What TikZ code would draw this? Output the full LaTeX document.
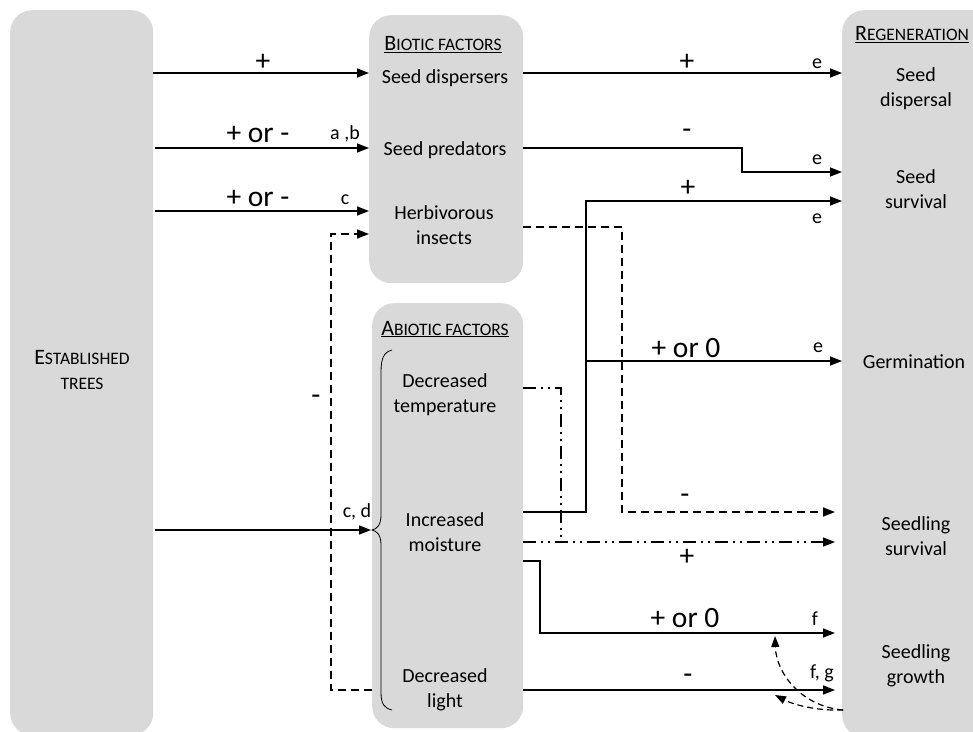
\documentclass[tikz,border=0pt]{standalone}
\usepackage{fontspec}
\setmainfont{Carlito}
\usetikzlibrary{arrows.meta}
\definecolor{boxgray}{HTML}{D9D9D9}
\newcommand{\myfsc}[2]{{\fontsize{22}{24}\selectfont #1}{\fontsize{17.5}{20}\selectfont #2}}
\begin{document}
\begin{tikzpicture}[x=1pt,y=-1pt,
  box/.style={fill=boxgray, rounded corners=22pt, inner sep=0pt, anchor=north west, draw=none},
  lbl/.style={font=\fontsize{20}{25}\selectfont, align=center, inner sep=0pt},
  sgn/.style={font=\fontsize{29.5}{31}\selectfont, inner sep=0pt},
  refl/.style={font=\fontsize{20}{22}\selectfont, inner sep=0pt},
  arr/.style={line width=1.5pt, -{Triangle[length=12pt,width=9pt]}},
  ln/.style={line width=1.5pt},
  dsh/.style={line width=1.5pt, dash pattern=on 8pt off 5pt},
  ddt/.style={line width=1.5pt, dash pattern=on 13pt off 5pt on 2pt off 5pt on 2pt off 5pt},
]
\useasboundingbox (0,0) rectangle (973,731);
\clip (0,0) rectangle (973,731);
\fill[white] (0,0) rectangle (973,731);

% boxes
\node[box, minimum width=143pt, minimum height=725pt] (est) at (10,10) {};
\node[box, minimum width=154pt, minimum height=268pt] (bio) at (369,15) {};
\node[box, minimum width=151pt, minimum height=425pt] (abio) at (372,303) {};
\node[box, minimum width=160pt, minimum height=727pt] (reg) at (842,10) {};

% box texts
\node[inner sep=0pt] (esttxt) at (82,357) {\myfsc{E}{STABLISHED}};
\node[inner sep=0pt] (esttxt2) at (82,384) {\fontsize{17.5}{20}\selectfont TREES};

\node[inner sep=0pt] (biot) at (443,45) {\underline{\myfsc{B}{IOTIC FACTORS}}};
\node[lbl] (sdisp) at (445,78) {Seed dispersers};
\node[lbl] (spred) at (445,150) {Seed predators};
\node[lbl] (herb) at (444,225) {Herbivorous\\insects};

\node[inner sep=0pt] (abiot) at (445,329) {\underline{\myfsc{A}{BIOTIC FACTORS}}};
\node[lbl] (temp) at (445,395) {Decreased\\temperature};
\node[lbl] (moist) at (445,532) {Increased\\moisture};
\node[lbl] (light) at (445,690) {Decreased\\light};

\node[inner sep=0pt] (regt) at (912,35) {\underline{\myfsc{R}{EGENERATION}}};
\node[lbl] (rsd) at (916,89) {Seed\\dispersal};
\node[lbl] (rss) at (916,189) {Seed\\survival};
\node[lbl] (rg) at (914,362) {Germination};
\node[lbl] (rsls) at (916,536) {Seedling\\survival};
\node[lbl] (rslg) at (916,666) {Seedling\\growth};

% brace
\draw[line width=0.8pt] (392,350) .. controls (384,352) and (381,358) .. (381,372)
  -- (381,515) .. controls (381,525) and (377,529) .. (372,530)
  .. controls (377,531) and (381,535) .. (381,545)
  -- (381,692) .. controls (381,704) and (384,708) .. (392,710);

% coordinates
\coordinate (a1s) at (153,73);   \coordinate (a1e) at (369,73);
\coordinate (a2s) at (155,148);  \coordinate (a2e) at (369,148);
\coordinate (a3s) at (155,211);  \coordinate (a3e) at (369,211);
\coordinate (a5s) at (155,530);  \coordinate (a5e) at (371,530);
\coordinate (d4s) at (372,690);  \coordinate (d4a) at (331,690);
\coordinate (d4b) at (331,234);  \coordinate (d4e) at (369,234);

\coordinate (b1s) at (523,73);   \coordinate (b1e) at (842,73);
\coordinate (b2s) at (523,148);  \coordinate (b2a) at (742,148);
\coordinate (b2b) at (742,172);  \coordinate (b2e) at (842,172);
\coordinate (m1s) at (523,512);  \coordinate (m1a) at (586,512);
\coordinate (m1b) at (586,201);  \coordinate (m1e) at (842,201);
\coordinate (m1c) at (586,361);  \coordinate (m1f) at (842,361);
\coordinate (h1s) at (523,227);  \coordinate (h1a) at (622,227);
\coordinate (h1b) at (622,512);  \coordinate (h1e) at (835,512);
\coordinate (t1s) at (523,388);  \coordinate (t1a) at (561,388);
\coordinate (t1b) at (561,542);
\coordinate (m2s) at (523,542);  \coordinate (m2e) at (835,542);
\coordinate (m3s) at (523,561);  \coordinate (m3a) at (540,561);
\coordinate (m3b) at (540,633);  \coordinate (m3e) at (835,633);
\coordinate (l1s) at (523,690);  \coordinate (l1e) at (835,690);
\coordinate (fb) at (843,710);
\coordinate (fbA) at (775,695);
\coordinate (fbB) at (775,636);

% left connectors
\draw[arr] (a1s) -- (a1e);
\draw[arr] (a2s) -- (a2e);
\draw[arr] (a3s) -- (a3e);
\draw[arr] (a5s) -- (a5e);
\draw[dsh] (d4s) -- (d4a) -- (d4b) -- ([xshift=-11pt]d4e);
\draw[arr] ([xshift=-12pt]d4e) -- (d4e);

% right connectors
\draw[arr] (b1s) -- (b1e);
\draw[arr] (b2s) -- (b2a) -- (b2b) -- (b2e);
\draw[arr] (m1s) -- (m1a) -- (m1b) -- (m1e);
\draw[arr] (m1c) -- (m1f);
\draw[dsh] (h1s) -- (h1a) -- (h1b) -- ([xshift=-11pt]h1e);
\draw[arr] ([xshift=-12pt]h1e) -- (h1e);
\draw[ddt] (t1s) -- (t1a) -- (t1b);
\draw[ddt] (m2s) -- ([xshift=-11pt]m2e);
\draw[arr] ([xshift=-12pt]m2e) -- (m2e);
\draw[arr] (m3s) -- (m3a) -- (m3b) -- (m3e);
\draw[arr] (l1s) -- (l1e);
\draw[line width=1.2pt, dash pattern=on 6pt off 4pt, -{Triangle[length=11pt,width=8pt]}]
  (fb) .. controls (815,711) and (792,704) .. (fbA);
\draw[line width=1.2pt, dash pattern=on 6pt off 4pt, -{Triangle[length=11pt,width=8pt]}]
  (fb) .. controls (800,706) and (776,672) .. (fbB);

% labels
\node[sgn] (s1) at (263,62) {+};
\node[sgn] (s2) at (258,134) {+ or -};
\node[refl] (r2) at (345,134) {a ,b};
\node[sgn] (s3) at (258,198) {+ or -};
\node[refl] (r3) at (345,200) {c};
\node[sgn] (s4) at (316,400) {-};
\node[refl] (r5) at (357,512) {c, d};

\node[sgn] (s6) at (687,62) {+};
\node[refl] (r6) at (817,64) {e};
\node[sgn] (s7) at (687,134) {-};
\node[refl] (r7) at (817,160) {e};
\node[sgn] (s8) at (688,188) {+};
\node[refl] (r8) at (817,219) {e};
\node[sgn] (s9) at (686,348) {+ or 0};
\node[refl] (r9) at (818,348) {e};
\node[sgn] (s10) at (685,499) {-};
\node[sgn] (s11) at (687,557) {+};
\node[sgn] (s12) at (685,618) {+ or 0};
\node[refl] (r12) at (815,619) {f};
\node[sgn] (s13) at (688,679) {-};
\node[refl] (r13) at (822,673) {f, g};
\end{tikzpicture}
\end{document}
